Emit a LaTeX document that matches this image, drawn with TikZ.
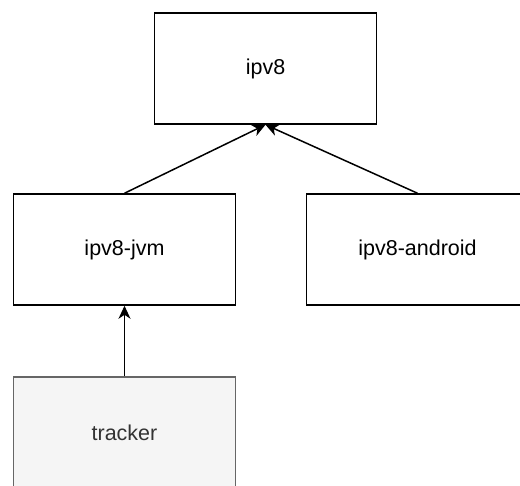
\documentclass[tikz,border=0pt]{standalone}
\usepackage{fontspec}
\setmainfont{Liberation Sans}
\usetikzlibrary{arrows.meta}

\begin{document}
\begin{tikzpicture}[x=1pt,y=-1pt,
        module/.style={draw=black,line width=1.5pt,fill=white,minimum width=222pt,minimum height=111pt,inner sep=0pt,font=\fontsize{21.5}{24}\selectfont},
        extmodule/.style={module,draw=black!60,fill=black!4,text=black!80},
        dep/.style={line width=1.5pt,-{Stealth[length=13pt,width=12pt,inset=4pt]}}]
                \clip (0,0) rectangle (520,486);
                \fill [white] (0,0) rectangle (520,486);
                \node [module] (ipv8) at (265.5,68.5) {ipv8};
                \node [module] (jvm) at (124.5,249.5) {ipv8-jvm};
                \node [module] (android) at (417.5,249.5) {ipv8-android};
                \node [extmodule] (tracker) at (124.5,432.5) {tracker};
                \draw [dep] (jvm.north) -- (ipv8.south);
                \draw [dep] (android.north) -- (ipv8.south);
                \draw [dep] (tracker.north) -- (jvm.south);
              \end{tikzpicture}
\end{document}
